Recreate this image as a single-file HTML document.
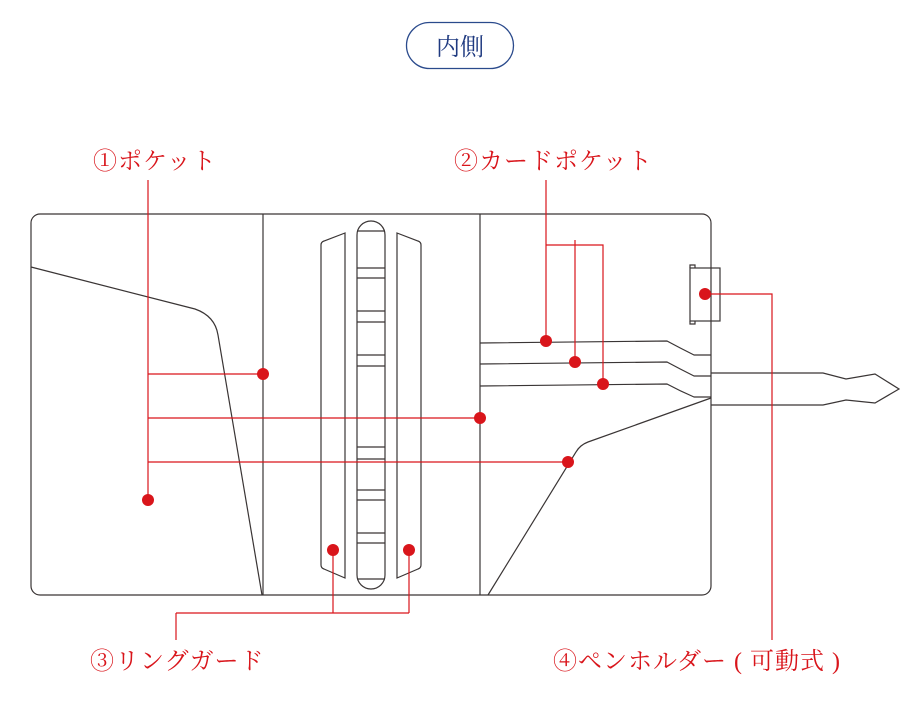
<!DOCTYPE html>
<html><head><meta charset="utf-8"><style>
body{margin:0;background:#fff;width:920px;height:720px;overflow:hidden}
svg{display:block}
text{font-family:"Liberation Serif","Noto Serif CJK SC",serif}
</style></head><body>
<svg width="920" height="720" viewBox="0 0 920 720">
<rect x="406.5" y="22.5" width="107" height="46" rx="23" fill="#fff" stroke="#2a4a8c" stroke-width="1.3"/>
<text x="460" y="55" text-anchor="middle" font-size="24" fill="#1f3a80">内側</text>
<g fill="none" stroke="#3a3535" stroke-width="1.2">
<rect x="31" y="214" width="680" height="381" rx="9"/>
<line x1="263" y1="214" x2="263" y2="595"/>
<line x1="480" y1="214" x2="480" y2="595"/>
<path d="M31 267 L195 309 Q215 316 218 335 L262 595"/>
<rect x="357" y="221" width="28" height="368" rx="14"/>
<line x1="357" y1="231" x2="385" y2="231"/>
<line x1="357" y1="579" x2="385" y2="579"/>
<path d="M357 268h28M357 278h28M357 311h28M357 322h28M357 355h28M357 366h28M357 447h28M357 459h28M357 490h28M357 500h28M357 533h28M357 543h28"/>
<path d="M345 233 L324 241 Q321 242 321 245 L321 565 Q321 568 324 569 L345 578 Z"/>
<path d="M397 233 L418 241 Q421 242 421 245 L421 565 Q421 568 418 569 L397 578 Z"/>
<path d="M480 343 L667 341 Q680 348 694 355 L711 355"/>
<path d="M480 364 L667 362 Q680 369 694 376 L711 376"/>
<path d="M480 386 L667 384 Q680 391 694 397 L711 397"/>
<path d="M711 398 L588 442 Q580 445 576 452 L488 595"/>
<path d="M711 373 L823 373 L846 379 L875 374 L899 389 L875 403 L846 400 L823 405 L711 405"/>
<rect x="690" y="268" width="30" height="53"/>
<path d="M690 268 V265 H695 V268 M690 321 V324 H695 V321"/>
</g>
<g fill="none" stroke="#d9151b" stroke-width="1.2">
<path d="M148 180 V500 M148 374 H263 M148 418 H480 M148 462 H568"/>
<path d="M546 180 V341 M546 245 H603 V384 M575 240 V362"/>
<path d="M333 550 V613 M409 550 V613 M176 613 H409 M176 613 V640"/>
<path d="M705 294 H772 V640"/>
</g>
<g fill="#d9151b">
<circle cx="148" cy="500" r="6"/><circle cx="263" cy="374" r="6"/><circle cx="480" cy="418" r="6"/><circle cx="568" cy="462" r="6"/>
<circle cx="546" cy="341" r="6"/><circle cx="575" cy="362" r="6"/><circle cx="603" cy="384" r="6"/>
<circle cx="333" cy="550" r="6"/><circle cx="409" cy="550" r="6"/><circle cx="705" cy="294" r="6"/>
</g>
<g fill="#d9151b" font-size="24" letter-spacing="1">
<text x="93" y="169">①ポケット</text>
<text x="454" y="169">②カードポケット</text>
<text x="90" y="669">③リングガード</text>
<text x="553" y="669">④ペンホルダー ( 可動式 )</text>
</g>
</svg>
</body></html>
